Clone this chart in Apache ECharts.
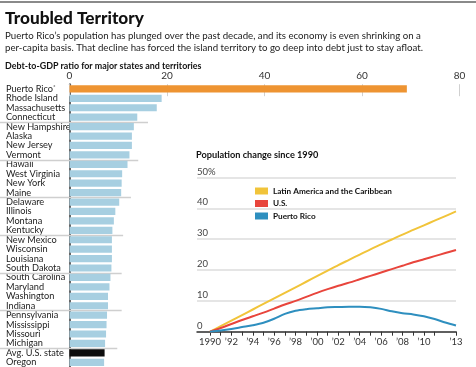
<!DOCTYPE html>
<html>
<head>
<meta charset="utf-8">
<script src="https://cdn.jsdelivr.net/npm/echarts@6/dist/echarts.min.js"></script>
<style>
html,body{margin:0;padding:0;background:#fff;}
#chart{width:476px;height:367px;}
</style>
</head>
<body>
<div id="chart"></div>
<script>
// ---- Debt-to-GDP bar chart data ----
const states = ['Puerto Rico', 'Rhode Island', 'Massachusetts', 'Connecticut', 'New Hampshire', 'Alaska',
  'New Jersey', 'Vermont', 'Hawaii', 'West Virginia', 'New York', 'Maine', 'Delaware', 'Illinois',
  'Montana', 'Kentucky', 'New Mexico', 'Wisconsin', 'Louisiana', 'South Dakota', 'South Carolina',
  'Maryland', 'Washington', 'Indiana', 'Pennsylvania', 'Mississippi', 'Missouri', 'Michigan',
  'Avg. U.S. state', 'Oregon'];
const debtRatio = [69.2, 18.9, 17.9, 13.9, 13.2, 12.8, 12.8, 12.3, 11.9, 10.8, 10.7, 10.6, 10.2, 9.4,
  9.1, 8.8, 8.7, 8.7, 8.7, 8.6, 8.4, 8.2, 7.9, 7.9, 7.7, 7.6, 7.5, 7.3, 7.2, 7.1];
const debtTicks = [0, 20, 40, 60, 80];
// group separator rules (after row index, reaching to value)
const separatorAfter = [3, 7, 11, 15, 19, 23, 27];
const separatorReach = [16.1, 14.1, 12.6, 11.0, 10.7, 10.7, 9.8];

// ---- Population change line chart data ----
const years = [1990, 1991, 1992, 1993, 1994, 1995, 1996, 1997, 1998, 1999, 2000, 2001,
  2002, 2003, 2004, 2005, 2006, 2007, 2008, 2009, 2010, 2011, 2012, 2013];
const latAm = [0, 1.8, 3.6, 5.4, 7.2, 9.0, 10.8, 12.6, 14.4, 16.2, 18.0, 19.8,
  21.6, 23.3, 25.0, 26.7, 28.3, 29.9, 31.5, 33.0, 34.5, 36.0, 37.5, 39.0];
const usPop = [0, 1.2, 2.5, 3.8, 5.0, 6.2, 7.5, 8.8, 10.0, 11.3, 12.6, 13.8,
  14.9, 15.9, 17.0, 18.1, 19.2, 20.3, 21.4, 22.5, 23.5, 24.5, 25.5, 26.5];
const prPop = [0, 0.4, 0.9, 1.5, 2.1, 2.9, 4.2, 5.8, 6.8, 7.3, 7.6, 7.9,
  8.0, 8.1, 8.1, 7.9, 7.4, 6.6, 6.0, 5.6, 5.0, 4.1, 3.0, 2.0];
const popTicks = [0, 10, 20, 30, 40, 50];
const yearLabelYears = [1990, 1992, 1994, 1996, 1998, 2000, 2002, 2004, 2006, 2008, 2010, 2012, 2013];

const FONT = 'Lato, "Liberation Sans", Arial, sans-serif';

const chart = echarts.init(document.getElementById('chart'), null, {renderer: 'canvas'});

const option = {
  backgroundColor: '#fff',
  animation: false,
  textStyle: {fontFamily: FONT},
  graphic: [
    {type: 'rect', shape: {x: 0, y: 1, width: 476, height: 2}, style: {fill: '#8a8a8a'}}
  ],
  title: [
    {text: 'Troubled Territory', left: 5, top: 8, padding: 0,
      textStyle: {fontFamily: FONT, fontSize: 17.2, fontWeight: 900, color: '#111', lineHeight: 20}},
    {text: 'Puerto Rico\u2019s population has plunged over the past decade, and its economy is even shrinking on a\nper-capita basis. That decline has forced the island territory to go deep into debt just to stay afloat.',
      left: 5, top: 29.4, padding: 0,
      textStyle: {fontFamily: FONT, fontSize: 9.7, fontWeight: 'normal', color: '#222', lineHeight: 12.6}},
    {text: 'Debt-to-GDP ratio for major states and territories', left: 5, top: 59.7, padding: 0,
      textStyle: {fontFamily: FONT, fontSize: 8.9, fontWeight: 'bold', color: '#111', lineHeight: 12}},
    {text: 'Population change since 1990', left: 196, top: 149, padding: 0,
      textStyle: {fontFamily: FONT, fontSize: 9.2, fontWeight: 'bold', color: '#111', lineHeight: 12}}
  ],
  legend: {
    data: ['Latin America and the Caribbean', 'U.S.', 'Puerto Rico'],
    orient: 'vertical',
    left: 255, top: 185, padding: 0,
    icon: 'rect',
    itemWidth: 13, itemHeight: 7,
    itemGap: 0.5,
    textStyle: {fontFamily: FONT, fontSize: 8.2, fontWeight: 'bold', color: '#111', lineHeight: 12}
  },
  grid: [
    {left: 69.5, right: 16.5, top: 84.2, height: 290.4, containLabel: false},
    {left: 197, right: 20, top: 177.5, height: 154.2, containLabel: false},
    {left: 210, right: 20, top: 177.5, height: 154.2, containLabel: false}
  ],
  xAxis: [
    {gridIndex: 0, type: 'value', position: 'top', min: 0, max: 80, interval: 20,
      axisLine: {show: false},
      axisTick: {show: true, inside: true, length: 12, lineStyle: {color: '#d0d0d0', width: 1}},
      splitLine: {show: false},
      axisLabel: {margin: 3, fontSize: 10, color: '#333', fontFamily: FONT,
        formatter: v => debtTicks.includes(v) ? String(v) : ''}},
    {gridIndex: 1, type: 'value', min: 0, max: 1, show: true,
      axisLine: {show: true, lineStyle: {color: '#333', width: 1.5}},
      axisTick: {show: false}, axisLabel: {show: false}, splitLine: {show: false}},
    {gridIndex: 2, type: 'value', min: 1990, max: 2013, interval: 1,
      axisLine: {show: false},
      axisTick: {show: true, length: 4, lineStyle: {color: '#333', width: 1}},
      splitLine: {show: false},
      axisLabel: {margin: 5, fontSize: 9.5, color: '#333', fontFamily: FONT, showMinLabel: true, showMaxLabel: true,
        formatter: v => {
          if (!yearLabelYears.includes(v)) return '';
          return v === 1990 ? '1990' : '\u2019' + String(v).slice(2);
        }}}
  ],
  yAxis: [
    {gridIndex: 0, type: 'category', inverse: true, data: states,
      axisLine: {show: true, lineStyle: {color: '#666', width: 2}},
      axisTick: {show: false},
      axisLabel: {interval: 0, align: 'left', margin: 63.5, fontSize: 9.2, color: '#222', fontFamily: FONT,
        formatter: v => v === 'Puerto Rico' ? 'Puerto Rico{sup|*}' : v,
        rich: {sup: {fontSize: 6, verticalAlign: 'top', padding: [0, 0, 4, 0], color: '#222', fontFamily: FONT}}}},
    {gridIndex: 1, type: 'value', min: 0, max: 50, interval: 10,
      axisLine: {show: false}, axisTick: {show: false},
      splitLine: {show: true, lineStyle: {color: '#dcdcdc', width: 1.5}},
      axisLabel: {align: 'left', verticalAlign: 'bottom', margin: 0, padding: [0, 0, 1, 0],
        fontSize: 9.5, color: '#444', fontFamily: FONT,
        formatter: v => popTicks.includes(v) ? (v === 50 ? '50%' : String(v)) : ''}},
    {gridIndex: 2, type: 'value', min: 0, max: 50, interval: 10, show: false}
  ],
  series: [
    {type: 'bar', xAxisIndex: 0, yAxisIndex: 0, barWidth: 7.2,
      data: debtRatio.map((v, i) => ({
        value: v,
        itemStyle: {color: i === 0 ? '#ee9432' : (states[i] === 'Avg. U.S. state' ? '#0d0d0d' : '#a7cfe1')}
      })),
      silent: true},
    {type: 'custom', xAxisIndex: 0, yAxisIndex: 0, silent: true,
      data: separatorAfter.map((r, i) => [separatorReach[i], r]),
      encode: {x: 0, y: 1},
      renderItem: (params, api) => {
        const p = api.coord([api.value(0), api.value(1)]);
        const band = api.size([0, 1])[1];
        const y = Math.round(p[1] + band / 2) + 0.5;
        return {type: 'line', shape: {x1: 0, y1: y, x2: p[0], y2: y},
          style: {stroke: '#cfcfcf', lineWidth: 1.5}};
      }},
    {name: 'Latin America and the Caribbean', type: 'line', xAxisIndex: 2, yAxisIndex: 2,
      data: years.map((y, i) => [y, latAm[i]]), showSymbol: false, smooth: 0.3,
      lineStyle: {color: '#f1c43a', width: 2}, itemStyle: {color: '#f1c43a'}},
    {name: 'U.S.', type: 'line', xAxisIndex: 2, yAxisIndex: 2,
      data: years.map((y, i) => [y, usPop[i]]), showSymbol: false, smooth: 0.3,
      lineStyle: {color: '#e8453c', width: 2}, itemStyle: {color: '#e8453c'}},
    {name: 'Puerto Rico', type: 'line', xAxisIndex: 2, yAxisIndex: 2,
      data: years.map((y, i) => [y, prPop[i]]), showSymbol: false, smooth: 0.3,
      lineStyle: {color: '#2e8fbf', width: 2}, itemStyle: {color: '#2e8fbf'}}
  ]
};
chart.setOption(option);
</script>
</body>
</html>
